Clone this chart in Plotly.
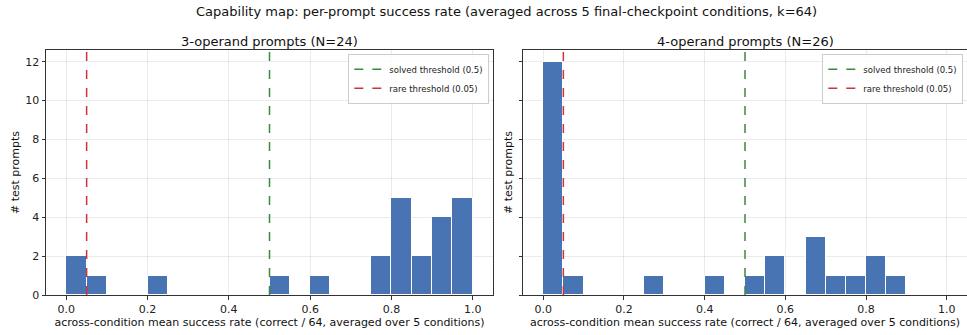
import plotly.graph_objects as go

bin_edges = [round(i * 0.05, 2) for i in range(21)]
counts_3op = [2, 1, 0, 0, 1, 0, 0, 0, 0, 0, 1, 0, 1, 0, 0, 2, 5, 2, 4, 5]
counts_4op = [12, 1, 0, 0, 0, 1, 0, 0, 1, 0, 1, 2, 0, 3, 1, 1, 2, 1, 0, 0]
solved_threshold = 0.5
rare_threshold = 0.05
titles = ["3-operand prompts (N=24)", "4-operand prompts (N=26)"]
suptitle = "Capability map: per-prompt success rate (averaged across 5 final-checkpoint conditions, k=64)"
xlabel = "across-condition mean success rate (correct / 64, averaged over 5 conditions)"
ylabel = "# test prompts"

BAR = "#4874b3"
GREEN = "#3a8a3a"
RED = "#c9353a"
FONT = "DejaVu Sans"

W, H = 967, 335
ML, MR, MT, MB = 46, 0, 50, 40
PW, PH = W - ML - MR, H - MT - MB

centers = [(bin_edges[i] + bin_edges[i + 1]) / 2 for i in range(20)]
width = bin_edges[1] - bin_edges[0]

def px_x(p):
    return (p - ML) / PW

def px_y(p):
    return (H - MB - p) / PH

doms = [(0.0, px_x(493)), (px_x(523), 1.0)]

fig = go.Figure()
for k, counts in enumerate([counts_3op, counts_4op]):
    xa = "x" if k == 0 else "x2"
    ya = "y" if k == 0 else "y2"
    lg = "legend" if k == 0 else "legend2"
    fig.add_trace(go.Bar(x=centers, y=counts, width=width, marker=dict(color=BAR, line=dict(color="white", width=1)),
                         xaxis=xa, yaxis=ya, showlegend=False, hoverinfo="x+y"))
    fig.add_trace(go.Scatter(x=[None], y=[None], mode="lines", line=dict(color=GREEN, dash="dash", width=1.5),
                             name="solved threshold (0.5)", xaxis=xa, yaxis=ya, legend=lg))
    fig.add_trace(go.Scatter(x=[None], y=[None], mode="lines", line=dict(color=RED, dash="dash", width=1.5),
                             name="rare threshold (0.05)", xaxis=xa, yaxis=ya, legend=lg))
    for thr, col in [(solved_threshold, GREEN), (rare_threshold, RED)]:
        fig.add_shape(type="line", xref=xa, yref=("y domain" if k == 0 else "y2 domain"), x0=thr, x1=thr, y0=0, y1=1,
                      line=dict(color=col, dash="dash", width=1.5), layer="above")

axis_common = dict(showline=True, linecolor="#333333", linewidth=1, mirror=True, gridcolor="rgba(0,0,0,0.08)",
                   ticks="outside", ticklen=3.5, tickcolor="#333333", zeroline=False, automargin=False,
                   tickfont=dict(family=FONT, size=11, color="#222222"))
xticks = [0, 0.2, 0.4, 0.6, 0.8, 1.0]
yticks = [0, 2, 4, 6, 8, 10, 12]

leg_common = dict(xanchor="right", yanchor="top", bgcolor="rgba(255,255,255,0.85)",
                  bordercolor="#cccccc", borderwidth=1, font=dict(size=8.5, family=FONT, color="#222222"),
                  tracegroupgap=0, itemwidth=30)

fig.update_layout(
    width=W, height=H, margin=dict(l=ML, r=MR, t=MT, b=MB), plot_bgcolor="white", paper_bgcolor="white",
    font=dict(family=FONT, color="#111111"), bargap=0,
    xaxis=dict(domain=doms[0], range=[-0.05, 1.05], tickvals=xticks, tickformat=".1f",
               title=dict(text=xlabel, font=dict(size=11), standoff=3), anchor="y", **axis_common),
    yaxis=dict(domain=[0, 1], range=[0, 12.6], tickvals=yticks,
               title=dict(text=ylabel, font=dict(size=11), standoff=3), anchor="x", **axis_common),
    xaxis2=dict(domain=doms[1], range=[-0.05, 1.05], tickvals=xticks, tickformat=".1f",
                title=dict(text=xlabel, font=dict(size=11), standoff=3), anchor="y2", **axis_common),
    yaxis2=dict(domain=[0, 1], range=[0, 12.6], tickvals=yticks, showticklabels=False,
                title=dict(text=ylabel, font=dict(size=11), standoff=3), anchor="x2", **axis_common),
    legend=dict(x=doms[0][1] - 0.004, y=0.985, **leg_common),
    legend2=dict(x=0.996, y=0.985, **leg_common),
    annotations=[
        dict(text=suptitle, x=0.5, y=px_y(12), xref="paper", yref="paper", showarrow=False,
             font=dict(size=13, family=FONT), xanchor="center", yanchor="middle"),
        dict(text=titles[0], x=(doms[0][0] + doms[0][1]) / 2, y=px_y(41), xref="paper", yref="paper",
             showarrow=False, font=dict(size=13, family=FONT), xanchor="center", yanchor="middle"),
        dict(text=titles[1], x=(doms[1][0] + doms[1][1]) / 2, y=px_y(41), xref="paper", yref="paper",
             showarrow=False, font=dict(size=13, family=FONT), xanchor="center", yanchor="middle"),
    ],
)

fig.write_html("out.html")
